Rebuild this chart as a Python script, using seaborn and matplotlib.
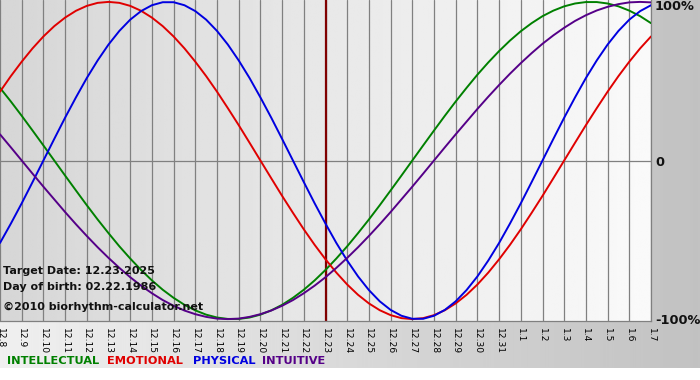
import numpy as np
import pandas as pd
import matplotlib
matplotlib.use("Agg")
import matplotlib.pyplot as plt
import seaborn as sns

# day labels, 12.8 .. 1.7
dates = ['12.%d' % d for d in range(8, 32)] + ['1.%d' % d for d in range(1, 8)]
target_idx = 15  # 12.23

# values every half day (-1 .. 1)
intellectual = [0.458, 0.372, 0.282, 0.189, 0.095, 0.0, -0.095, -0.189, -0.282, -0.372,
                -0.458, -0.541, -0.618, -0.690, -0.756, -0.815, -0.866, -0.910, -0.945, -0.972,
                -0.990, -0.999, -0.999, -0.990, -0.972, -0.945, -0.910, -0.866, -0.815, -0.756,
                -0.690, -0.618, -0.541, -0.458, -0.372, -0.282, -0.189, -0.095, 0.0, 0.095,
                0.189, 0.282, 0.372, 0.458, 0.541, 0.618, 0.690, 0.756, 0.815, 0.866,
                0.910, 0.945, 0.972, 0.990, 0.999, 0.999, 0.990, 0.972, 0.945, 0.910, 0.866]
emotional = [0.434, 0.532, 0.623, 0.707, 0.782, 0.847, 0.901, 0.944, 0.975, 0.994,
             1.000, 0.994, 0.975, 0.944, 0.901, 0.847, 0.782, 0.707, 0.623, 0.532,
             0.434, 0.330, 0.223, 0.112, 0.0, -0.112, -0.223, -0.330, -0.434, -0.532,
             -0.623, -0.707, -0.782, -0.847, -0.901, -0.944, -0.975, -0.994, -1.000, -0.994,
             -0.975, -0.944, -0.901, -0.847, -0.782, -0.707, -0.623, -0.532, -0.434, -0.330,
             -0.223, -0.112, 0.0, 0.112, 0.223, 0.330, 0.434, 0.532, 0.623, 0.707, 0.782]
physical = [-0.520, -0.398, -0.270, -0.136, 0.0, 0.136, 0.270, 0.398, 0.520, 0.631,
            0.731, 0.817, 0.888, 0.942, 0.979, 0.998, 0.998, 0.979, 0.942, 0.888,
            0.817, 0.731, 0.631, 0.520, 0.398, 0.270, 0.136, 0.0, -0.136, -0.270,
            -0.398, -0.520, -0.631, -0.731, -0.817, -0.888, -0.942, -0.979, -0.998, -0.998,
            -0.979, -0.942, -0.888, -0.817, -0.731, -0.631, -0.520, -0.398, -0.270, -0.136,
            0.0, 0.136, 0.270, 0.398, 0.520, 0.631, 0.731, 0.817, 0.888, 0.942, 0.979]
intuitive = [0.165, 0.083, 0.0, -0.083, -0.165, -0.245, -0.325, -0.402, -0.476, -0.547,
             -0.614, -0.677, -0.736, -0.789, -0.837, -0.880, -0.916, -0.946, -0.969, -0.986,
             -0.997, -1.000, -0.997, -0.986, -0.969, -0.946, -0.916, -0.880, -0.837, -0.789,
             -0.736, -0.677, -0.614, -0.547, -0.476, -0.402, -0.325, -0.245, -0.165, -0.083,
             0.0, 0.083, 0.165, 0.245, 0.325, 0.402, 0.476, 0.547, 0.614, 0.677,
             0.736, 0.789, 0.837, 0.880, 0.916, 0.946, 0.969, 0.986, 0.997, 1.000, 0.997]

series_names = ['INTELLECTUAL', 'EMOTIONAL', 'PHYSICAL', 'INTUITIVE']
colors = {'INTELLECTUAL': '#008000', 'EMOTIONAL': '#e00000',
          'PHYSICAL': '#0000e0', 'INTUITIVE': '#550088'}

rows = []
for name, vals in zip(series_names, [intellectual, emotional, physical, intuitive]):
    for i, v in enumerate(vals):
        rows.append({'day': i / 2, 'value': v, 'cycle': name})
df = pd.DataFrame(rows)

sns.set_style("white")
plt.rcParams['font.family'] = ['DejaVu Sans']

fig = plt.figure(figsize=(7, 3.8), dpi=100)
W, H = 700, 380

# figure background: grey gradient, white strip at the bottom
bg = fig.add_axes([0, 0, 1, 1], zorder=-10)
img = np.tile(np.linspace(0.94, 0.76, 256), (380, 1))
img[368:, :] = 1.0
bg.imshow(img, cmap='gray', vmin=0, vmax=1, aspect='auto', extent=(0, 1, 0, 1), origin='upper')
bg.set_axis_off()

left, right, top, bottom = 0, 651, 0, 321
ax = fig.add_axes([left / W, 1 - bottom / H, (right - left) / W, (bottom - top) / H])
ax.patch.set_alpha(0)

ylo, yhi = -1.012, 1.012
ax.set_xlim(0, len(dates) - 1)
ax.set_ylim(ylo, yhi)

# plot area gradient
pg = np.tile(np.linspace(0.84, 0.98, 256), (2, 1))
ax.imshow(pg, cmap='gray', vmin=0, vmax=1, aspect='auto',
          extent=(0, len(dates) - 1, ylo, yhi), zorder=0)

for d in range(len(dates)):
    ax.axvline(d, color='#808080', lw=0.9, zorder=1)
ax.axhline(0, color='#808080', lw=0.9, zorder=1)
ax.axvline(target_idx, color='#800000', lw=1.6, zorder=2)

sns.lineplot(data=df, x='day', y='value', hue='cycle', palette=colors,
             hue_order=series_names, lw=1.4, legend=False, ax=ax, zorder=3)

ax.set_xticks(range(len(dates)))
ax.set_xticklabels(dates, rotation=270, fontsize=6.6, color='#000000')
ax.tick_params(axis='x', direction='out', length=4, width=0.9, color='#808080', pad=1)
ax.set_yticks([])
ax.set_xlabel('')
ax.set_ylabel('')
for s in ['top', 'left']:
    ax.spines[s].set_visible(False)
for s in ['bottom', 'right']:
    ax.spines[s].set_color('#808080')
    ax.spines[s].set_linewidth(0.9)

# right side percent labels
for ypx, lab in [(7, '100%'), (162, '0'), (321, '-100%')]:
    fig.text(655 / W, 1 - ypx / H, lab, ha='left', va='center',
             fontsize=9.3, fontweight='bold', color='#111111')

# info text
info = ['Target Date: 12.23.2025', 'Day of birth: 02.22.1986',
        '\u00a92010 biorhythm-calculator.net']
for ypx, line in zip([271, 287, 307], info):
    fig.text(3 / W, 1 - ypx / H, line, fontsize=8.0, fontweight='bold',
             va='center', color='#111111')

# legend row
xs = [7, 107, 193, 262]
for x, name in zip(xs, series_names):
    fig.text(x / W, 1 - 361 / H, name, fontsize=8.2, fontweight='bold',
             va='center', color=colors[name])

fig.savefig('out.png', dpi=100)
